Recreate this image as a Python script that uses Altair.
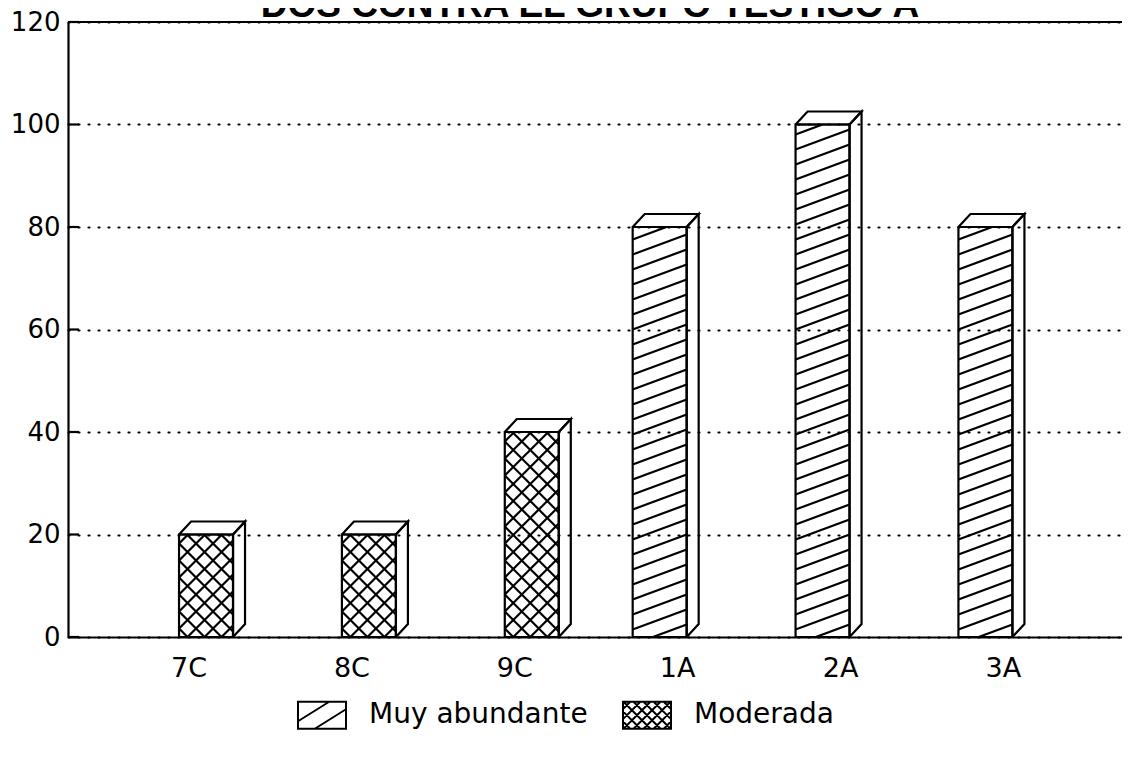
import altair as alt
import pandas as pd
import math

# ---------------- data ----------------
categories = ["7C", "8C", "9C", "1A", "2A", "3A"]
series = ["Moderada", "Moderada", "Moderada", "Muy abundante", "Muy abundante", "Muy abundante"]
values = [20, 20, 40, 80, 100, 80]
legend_order = ["Muy abundante", "Moderada"]
y_ticks = [0, 20, 40, 60, 80, 100, 120]
title_text = "DOS CONTRA EL GRUPO TESTIGO A"

# ---------------- layout / style ----------------
W, H = 1054, 615
XDOM = [-0.74, 5.731]
YDOM = [0, 120]
UX = (XDOM[1] - XDOM[0]) / W      # data units per px (x)
UY = (YDOM[1] - YDOM[0]) / H      # data units per px (y)
BAR_W = 54
OFFSET = {"Moderada": 17.5, "Muy abundante": -17.5}
DEPTH_X, DEPTH_Y = 12, 13
HATCH = {"Muy abundante": [(20 / 54, 15)], "Moderada": [(1.0, 17), (-1.0, 17)]}
FONT = "DejaVu Sans"
LW = 2.2


def clip(s, c, x0, x1, y0, y1):
    """segment of y = s*x + c inside [x0,x1]x[y0,y1]"""
    if s > 0:
        xa, xb = (y0 - c) / s, (y1 - c) / s
    else:
        xa, xb = (y1 - c) / s, (y0 - c) / s
    xa, xb = max(xa, x0), min(xb, x1)
    if xb - xa <= 1e-3 * (x1 - x0):
        return None
    return xa, s * xa + c, xb, s * xb + c


front_rows, face_rows, hatch_rows = [], [], []
for i, (cat, ser, v) in enumerate(zip(categories, series, values)):
    left = i + (OFFSET[ser] - BAR_W / 2) * UX
    right = left + BAR_W * UX
    dx, dy = DEPTH_X * UX, DEPTH_Y * UY
    front_rows.append({"cat": cat, "series": ser, "x": left, "x2": right, "y": v, "y2": 0,
                       "xc": i})
    side = [(right, 0), (right + dx, dy), (right + dx, v + dy), (right, v), (right, 0)]
    top = [(left, v), (left + dx, v + dy), (right + dx, v + dy), (right, v), (left, v)]
    for name, poly in (("side", side), ("top", top)):
        for k, (px, py) in enumerate(poly):
            face_rows.append({"face": f"{cat}-{name}", "o": k, "x": px, "y": py})
    hpx = v / UY
    for s, sp in HATCH[ser]:
        if s > 0:
            cmin, cmax = -s * BAR_W, hpx
        else:
            cmin, cmax = 0, hpx - s * BAR_W
        k0, k1 = math.floor(cmin / sp), math.ceil(cmax / sp)
        for k in range(k0, k1 + 1):
            seg = clip(s, k * sp + sp / 2, 0, BAR_W, 0, hpx)
            if seg:
                xa, ya, xb, yb = seg
                hatch_rows.append({"x": left + xa * UX, "x2": left + xb * UX,
                                   "y": ya * UY, "y2": yb * UY})

front = pd.DataFrame(front_rows)
faces = pd.DataFrame(face_rows)
hatch = pd.DataFrame(hatch_rows)
ticks_df = pd.DataFrame({"y": y_ticks})
title_df = pd.DataFrame({"t": [title_text]})


# ---------------- legend symbol paths ----------------
def fmt(v):
    return f"{v:.3f}"


RY = 0.5625
rect_path = f"M-1,{fmt(-RY)}H1V{fmt(RY)}H-1Z"
path_muy = rect_path + f" M-1,0.25L0.3,{fmt(-RY)} M-0.3,{fmt(RY)}L1,-0.25"
cross = []
for s in (1.0, -1.0):
    for k in range(-8, 9):
        seg = clip(s, k * 0.42, -1.0, 1.0, -RY, RY)
        if seg:
            xa, ya, xb, yb = seg
            cross.append(f"M{fmt(xa)},{fmt(ya)}L{fmt(xb)},{fmt(yb)}")
path_mod = rect_path + " " + " ".join(cross)

# ---------------- encodings ----------------
xscale = alt.Scale(domain=XDOM, nice=False, zero=False)
yscale = alt.Scale(domain=YDOM, nice=False)
label_expr = "[" + ",".join(f"'{c}'" for c in categories) + "][datum.value]"

x_axis = alt.Axis(values=list(range(len(categories))), labelExpr=label_expr, grid=False,
                  ticks=False, domainColor="black", domainWidth=LW, labelFont=FONT,
                  labelFontSize=27, labelColor="black", labelPadding=18, title=None,
                  labelFlush=False)
y_axis = alt.Axis(values=y_ticks, grid=True, gridDash=[1, 9], gridCap="round", gridWidth=2.2,
                  gridColor="black", gridOpacity=1, ticks=False, domainColor="black",
                  domainWidth=LW, labelFont=FONT, labelFontSize=26, labelColor="black",
                  labelPadding=8, title=None)

base = alt.Chart(front)

bars = base.mark_rect(fill="white", fillOpacity=0, stroke="black", strokeWidth=LW).encode(
    x=alt.X("x:Q", scale=xscale, axis=x_axis),
    x2="x2:Q",
    y=alt.Y("y:Q", scale=yscale, axis=y_axis),
    y2="y2:Q",
)

hatch_layer = alt.Chart(hatch).mark_rule(color="black", strokeWidth=LW).encode(
    x=alt.X("x:Q", scale=xscale), x2="x2:Q",
    y=alt.Y("y:Q", scale=yscale), y2="y2:Q",
)

face_layer = alt.Chart(faces).mark_line(color="black", strokeWidth=LW, strokeJoin="miter").encode(
    x=alt.X("x:Q", scale=xscale),
    y=alt.Y("y:Q", scale=yscale),
    detail="face:N",
    order="o:Q",
)

legend_layer = base.mark_point(size=0, opacity=0).encode(
    x=alt.X("xc:Q", scale=xscale),
    y=alt.Y("y2:Q", scale=yscale),
    shape=alt.Shape("series:N",
                    scale=alt.Scale(domain=legend_order, range=[path_muy, path_mod]),
                    legend=alt.Legend(orient="none", legendX=229, legendY=668,
                                      direction="horizontal", title=None,
                                      symbolSize=2304, symbolStrokeWidth=2,
                                      symbolStrokeColor="black", symbolFillColor="white",
                                      symbolOpacity=1, labelFont=FONT, labelFontSize=28,
                                      labelColor="black", labelOffset=22,
                                      columnPadding=31, padding=0, labelLimit=400)),
)

tick_layer = alt.Chart(ticks_df).mark_rule(color="black", strokeWidth=LW).encode(
    y=alt.Y("y:Q", scale=yscale),
    x=alt.value(0),
    x2=alt.value(11),
)

top_rule = alt.Chart(ticks_df).mark_rule(color="black", strokeWidth=LW).encode(
    y=alt.datum(YDOM[1]),
    x=alt.value(0),
    x2=alt.value(W + 10),
)

# the title is cut by the top edge in the source scan; keep it at the same place
title_layer = alt.Chart(title_df).mark_text(
    font="Liberation Sans", fontWeight="bold", fontSize=37, baseline="alphabetic",
    align="center", color="black"
).encode(text="t:N", x=alt.value(522), y=alt.value(-5))

chart = alt.layer(
    bars, hatch_layer, face_layer, legend_layer, tick_layer, top_rule, title_layer
).properties(
    width=W, height=H,
    padding={"left": 60, "top": 14, "right": 0, "bottom": 120},
    autosize=alt.AutoSizeParams(type="none"),
    background="white",
).configure_view(stroke=None)

chart.save("out.html", embed_options={"renderer": "svg", "actions": False})
